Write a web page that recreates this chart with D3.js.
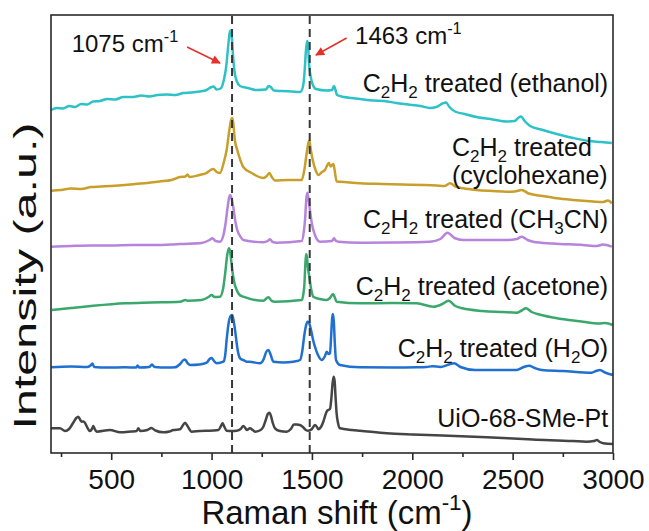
<!DOCTYPE html>
<html>
<head>
<meta charset="utf-8">
<title>Raman spectra</title>
<script src="https://cdn.jsdelivr.net/npm/d3@7"></script>
<style>
    body { margin: 0; background: #ffffff; }
    text { font-family: 'Liberation Sans', Arial, sans-serif; fill: #111111; }
</style>
</head>
<body>
<svg id="chart" width="649" height="531"></svg>
<script>
// axis ranges and ticks
const xDomain = [200, 3000];
const yDomain = [0, 438];
const majorTicks = [500, 1000, 1500, 2000, 2500, 3000];
const minorTicks = [250, 750, 1250, 1750, 2250, 2750];
// dashed guide lines (Raman shift, cm-1)
const markedShifts = [1102, 1489];

// spectra: [Raman shift (cm-1), intensity (a.u., stacked with offset)]
const ethanol = [[200, 343], [230, 345], [260, 344.5], [290, 347], [320, 346], [350, 349], [380, 348.5], [410, 351.5], [444, 352], [480, 354], [520, 353.5], [560, 356], [610, 356], [650, 357.5], [690, 356.5], [730, 358], [776, 358.5], [820, 358], [860, 360], [900, 360.5], [940, 361.5], [975, 363], [1000, 366], [1010, 366.5], [1025, 363.5], [1045, 364.5], [1060, 372], [1072, 385], [1082, 405], [1090, 420], [1095, 422.5], [1100, 418], [1106, 400], [1114, 382], [1125, 372], [1142, 367], [1180, 365], [1225, 363], [1270, 363.5], [1285, 367], [1295, 366], [1310, 362.5], [1350, 362], [1400, 361.5], [1441, 361], [1455, 366], [1463, 380], [1470, 402], [1476, 412], [1480, 409], [1486, 388], [1494, 376], [1505, 368], [1520, 364], [1573, 362.5], [1600, 363], [1610, 367], [1616, 364], [1625, 358], [1660, 356], [1700, 355], [1740, 354], [1806, 352.5], [1860, 352], [1920, 350], [1980, 348.5], [2040, 347], [2088, 345], [2120, 346], [2150, 349.5], [2168, 350.5], [2185, 346], [2213, 341.5], [2260, 339], [2320, 336], [2400, 333.5], [2470, 331.5], [2510, 332], [2530, 335.5], [2542, 336.5], [2560, 332], [2587, 327], [2650, 323], [2720, 319], [2801, 315], [2880, 312], [2940, 311], [2994, 310]];
const cyclohexane = [[200, 262.3], [250, 263], [300, 264.5], [350, 264], [400, 266], [450, 266.5], [500, 267], [569, 268], [620, 269], [680, 270], [740, 271.5], [800, 273], [843, 276], [870, 276.5], [880, 278.5], [890, 276], [940, 278], [975, 280], [995, 283], [1009, 284], [1025, 281], [1042, 280], [1060, 290], [1075, 303], [1088, 322], [1097, 333], [1103, 335], [1108, 330], [1116, 313], [1128, 303], [1145, 292], [1158, 286], [1200, 280], [1258, 275], [1275, 277], [1288, 280], [1300, 276], [1316, 272.5], [1380, 273], [1449, 273], [1463, 284], [1474, 300], [1482, 310], [1487, 312.5], [1493, 305], [1504, 293], [1518, 283], [1532, 278], [1550, 281], [1565, 283], [1577, 288], [1585, 290], [1593, 286.5], [1600, 288], [1607, 289], [1613, 283], [1623, 271.5], [1640, 271.3], [1740, 269.7], [1850, 269], [1950, 268.5], [2055, 268], [2120, 267.5], [2160, 267], [2188, 269.7], [2215, 266.5], [2254, 264.7], [2320, 263], [2400, 262], [2470, 261.3], [2510, 261.5], [2545, 263], [2580, 259.5], [2650, 257], [2719, 254.7], [2800, 253], [2900, 251.5], [2950, 251], [2975, 252.5], [2994, 249.7]];
const ch3cn = [[200, 206.3], [300, 207], [400, 207.5], [500, 207.5], [600, 208], [700, 208], [800, 208.5], [843, 209], [950, 210], [990, 213], [1004, 214.7], [1020, 212], [1042, 211.3], [1058, 217], [1070, 230], [1080, 246], [1088, 256], [1093, 258], [1100, 254], [1108, 246], [1118, 232], [1128, 223], [1145, 216], [1158, 213], [1258, 210.7], [1280, 212], [1291, 213.7], [1305, 211], [1324, 210.3], [1449, 212], [1460, 222], [1466, 234], [1472, 254], [1477, 260.3], [1483, 254], [1490, 243], [1500, 229], [1515, 218], [1540, 211.3], [1600, 212], [1610, 214.7], [1620, 212], [1632, 211.3], [1740, 210.3], [1900, 210.5], [2088, 211.3], [2140, 214], [2175, 220.3], [2210, 215], [2254, 213], [2470, 213], [2520, 214], [2545, 216.3], [2575, 213], [2602, 211.3], [2700, 209.5], [2850, 208], [2920, 207], [2950, 208.5], [2994, 206.3]];
const acetone = [[205, 143], [300, 145], [400, 147], [569, 149.7], [700, 150.5], [843, 151.3], [870, 153], [880, 152.3], [950, 153], [985, 156], [1000, 158], [1015, 156], [1042, 156.3], [1058, 165], [1068, 180], [1078, 198], [1086, 204.7], [1092, 202], [1098, 192], [1105, 180], [1115, 169], [1125, 163], [1140, 158], [1158, 156.3], [1258, 152.3], [1283, 155.7], [1300, 152], [1316, 151.3], [1449, 153], [1458, 160], [1463, 170], [1467, 188], [1471, 199], [1475, 196], [1481, 184], [1487, 176.3], [1496, 164], [1507, 156.3], [1540, 154], [1573, 153], [1590, 155], [1605, 159], [1615, 155], [1623, 151.3], [1740, 149.7], [1900, 150], [2022, 149.7], [2105, 146.3], [2150, 149], [2180, 152.3], [2215, 147], [2250, 144.7], [2350, 142], [2450, 141], [2520, 140.3], [2545, 142.5], [2566, 144.7], [2595, 141], [2624, 139], [2700, 135.5], [2780, 133], [2851, 131.3], [2930, 129.5], [2960, 130], [3000, 128]];
const water = [[200, 85.7], [300, 86.5], [380, 86], [400, 88], [407, 89.5], [415, 86], [480, 85.5], [569, 85.7], [625, 85.5], [631, 87.5], [640, 85.5], [690, 86], [703, 88.5], [716, 86], [780, 85.5], [818, 85.7], [843, 89], [860, 93], [868, 93.5], [880, 90], [893, 88], [940, 88.5], [976, 90.3], [990, 94], [1000, 95], [1012, 92], [1026, 89.7], [1059, 91.3], [1068, 98], [1075, 113], [1085, 130], [1095, 137], [1103, 138], [1110, 132], [1117, 123], [1125, 110], [1133, 99.7], [1145, 94], [1158, 93], [1175, 91.3], [1200, 91], [1241, 89.7], [1260, 94], [1272, 101], [1283, 103], [1293, 99], [1308, 91.3], [1360, 90.5], [1407, 91.3], [1441, 93], [1452, 102], [1461, 116.3], [1470, 127], [1478, 131.3], [1484, 131], [1492, 126], [1499, 119.7], [1507, 112], [1515, 106.3], [1530, 98], [1549, 93], [1565, 97], [1574, 101.3], [1583, 99], [1590, 100], [1596, 118], [1600, 133], [1604, 139], [1609, 132], [1614, 110], [1620, 93], [1640, 88], [1740, 85.7], [1900, 85.5], [2022, 85.7], [2070, 86], [2100, 86.8], [2140, 86], [2190, 89], [2208, 89.7], [2240, 86], [2313, 83], [2450, 83], [2520, 83], [2555, 86], [2582, 87.3], [2610, 85], [2645, 83], [2750, 82], [2894, 80.3], [2915, 82], [2935, 83], [2960, 80.5], [3000, 78]];
const uio = [[200, 24.7], [245, 24.7], [270, 22], [290, 24], [310, 30], [326, 35], [336, 36.3], [346, 33], [353, 31.3], [362, 31.5], [369, 30.3], [382, 25], [394, 22], [404, 24], [411, 27], [418, 24], [428, 21.3], [494, 23], [544, 20.7], [600, 21.5], [627, 22], [635, 24.7], [645, 22], [680, 23], [700, 25], [720, 22.5], [760, 20.7], [790, 21.5], [809, 23], [843, 23.7], [855, 27], [868, 30.3], [880, 27], [901, 21.3], [940, 22], [976, 22.3], [1010, 22.5], [1034, 23], [1047, 27], [1055, 29.7], [1062, 27], [1075, 22.3], [1100, 22], [1125, 22.3], [1145, 24], [1158, 27], [1168, 25], [1175, 23], [1191, 24.7], [1205, 23], [1216, 21.3], [1240, 22.5], [1258, 26.3], [1270, 33], [1280, 39], [1288, 40.3], [1296, 37], [1305, 30], [1316, 24.7], [1340, 22], [1374, 21.3], [1395, 24], [1410, 28.5], [1425, 28.5], [1440, 28], [1455, 26], [1470, 23], [1482, 22.3], [1500, 24], [1515, 28], [1525, 26], [1532, 23.7], [1545, 26], [1558, 32], [1567, 38], [1575, 42], [1582, 43], [1590, 44], [1597, 55], [1603, 70], [1608, 76.3], [1613, 72], [1618, 55], [1623, 39.7], [1630, 30], [1640, 24.7], [1700, 23], [1740, 22.3], [1873, 19.7], [2000, 18.5], [2150, 17.5], [2371, 15.7], [2600, 13.5], [2800, 12], [2869, 11.3], [2905, 12], [2919, 13], [2935, 11], [2952, 9.7], [3000, 9]];

const seriesNames = ['ethanol', 'cyclohexane', 'CH3CN', 'acetone', 'H2O', 'UiO-68-SMe-Pt'];
const seriesData = [ethanol, cyclohexane, ch3cn, acetone, water, uio];

// trace labels ("_2" = subscript, "^-1" = superscript)
const labelTexts = ['C_2H_2 treated (ethanol)', 'C_2H_2 treated', '(cyclohexane)', 'C_2H_2 treated (CH_3CN)', 'C_2H_2 treated (acetone)', 'C_2H_2 treated (H_2O)', 'UiO-68-SMe-Pt'];
const labelShift = [2976, 2198, 2198, 2976, 2976, 2976, 2976];
const labelLevel = [361, 297, 269, 225, 158, 96, 26];
const labelAnchor = ['end', 'start', 'start', 'end', 'end', 'end', 'end'];

// peak annotations with arrows
const noteTexts = ['1075 cm^-1', '1463 cm^-1'];
const noteAt = [[303, 401], [1715, 409]];
const arrowFrom = [[878, 406], [1673, 415]];
const arrowTo = [[1042, 390], [1520, 398]];

const width = 649;
const height = 531;
const margin = { top: 15, right: 36, bottom: 78, left: 51 };

// палитра трасс
const color = d3.scaleOrdinal()
    .domain(seriesNames)
    .range(['#2ec2c6', '#c89f2a', '#b784dc', '#3aa86c', '#2070d0', '#454545']);

const x = d3.scaleLinear().domain(xDomain).range([margin.left, width - margin.right]);
const y = d3.scaleLinear().domain(yDomain).range([height - margin.bottom, margin.top]);

const svg = d3.select('#chart');

/**
 * Writes a string with _x subscripts and ^x superscripts as tspans
 * @param textSel d3 selection of a <text>
 * @param str source string
 * @param size base font size in px
 */
function richText(textSel, str, size) {
    const parts = str.split(/(_\d|\^-?\d)/).filter(function (s) {
        return s !== '';
    });
    let level = 0;
    parts.forEach(function (p) {
        let target = 0;
        let content = p;
        if (p[0] === '_') {
            target = 0.25;
            content = p.slice(1);
        } else if (p[0] === '^') {
            target = -0.42;
            content = p.slice(1);
        }
        const span = textSel.append('tspan')
            .attr('dy', ((target - level) * size) + 'px')
            .text(content);
        if (target !== 0) span.style('font-size', (size * 0.68) + 'px');
        level = target;
    });
}

// spectra
const line = d3.line()
    .x(d => x(d[0]))
    .y(d => y(d[1]))
    .curve(d3.curveMonotoneX);

svg.append('g')
    .selectAll('path')
    .data(seriesData)
    .enter()
    .append('path')
    .attr('d', line)
    .attr('fill', 'none')
    .attr('stroke', (d, i) => color(seriesNames[i]))
    .attr('stroke-width', 2.5)
    .attr('stroke-linejoin', 'round');

// dashed guide lines
svg.append('g')
    .selectAll('line')
    .data(markedShifts)
    .enter()
    .append('line')
    .attr('x1', d => x(d))
    .attr('x2', d => x(d))
    .attr('y1', y(yDomain[0]))
    .attr('y2', y(yDomain[1]))
    .attr('stroke', '#383838')
    .attr('stroke-width', 2)
    .attr('stroke-dasharray', '8 5');

// frame
svg.append('rect')
    .attr('x', x(xDomain[0]))
    .attr('y', y(yDomain[1]))
    .attr('width', x(xDomain[1]) - x(xDomain[0]))
    .attr('height', y(yDomain[0]) - y(yDomain[1]))
    .attr('fill', 'none')
    .attr('stroke', '#2a2a2a')
    .attr('stroke-width', 1.6);

// bottom axis, major + minor ticks
const axisMajor = svg.append('g')
    .attr('transform', 'translate(0,' + y(yDomain[0]) + ')')
    .call(d3.axisBottom(x)
        .tickValues(majorTicks)
        .tickFormat(d3.format('d'))
        .tickSize(7)
        .tickPadding(9)
        .tickSizeOuter(0));
axisMajor.select('.domain').remove();
axisMajor.selectAll('line').attr('stroke', '#2a2a2a').attr('stroke-width', 1.6);
axisMajor.selectAll('text')
    .style('font-size', '28px')
    .style('font-family', "'Liberation Sans', Arial, sans-serif")
    .attr('fill', '#111');

const axisMinor = svg.append('g')
    .attr('transform', 'translate(0,' + y(yDomain[0]) + ')')
    .call(d3.axisBottom(x).tickValues(minorTicks).tickSize(4).tickFormat('').tickSizeOuter(0));
axisMinor.select('.domain').remove();
axisMinor.selectAll('line').attr('stroke', '#2a2a2a').attr('stroke-width', 1.6);

// axis titles
const xTitle = svg.append('text')
    .attr('x', 337)
    .attr('y', 524)
    .attr('text-anchor', 'middle')
    .style('font-size', '33px');
richText(xTitle, 'Raman shift (cm^-1)', 33);

svg.append('text')
    .attr('transform', 'translate(36,276) rotate(-90)')
    .attr('text-anchor', 'middle')
    .attr('textLength', 307)
    .attr('lengthAdjust', 'spacingAndGlyphs')
    .style('font-size', '32px')
    .text('Intensity (a.u.)');

// trace labels
labelTexts.forEach(function (t, i) {
    const lbl = svg.append('text')
        .attr('x', x(labelShift[i]))
        .attr('y', y(labelLevel[i]))
        .attr('text-anchor', labelAnchor[i])
        .style('font-size', '25px');
    richText(lbl, t, 25);
});

// arrows and peak notes
svg.append('defs')
    .append('marker')
    .attr('id', 'arrowHead')
    .attr('viewBox', '0 0 10 10')
    .attr('refX', 9)
    .attr('refY', 5)
    .attr('markerWidth', 11)
    .attr('markerHeight', 9)
    .attr('markerUnits', 'userSpaceOnUse')
    .attr('orient', 'auto')
    .append('path')
    .attr('d', 'M0,0 L10,5 L0,10 Z')
    .attr('fill', '#e5302b');

arrowFrom.forEach(function (a, i) {
    svg.append('line')
        .attr('x1', x(a[0]))
        .attr('y1', y(a[1]))
        .attr('x2', x(arrowTo[i][0]))
        .attr('y2', y(arrowTo[i][1]))
        .attr('stroke', '#e5302b')
        .attr('stroke-width', 1.5)
        .attr('marker-end', 'url(#arrowHead)');
});

noteTexts.forEach(function (t, i) {
    const note = svg.append('text')
        .attr('x', x(noteAt[i][0]))
        .attr('y', y(noteAt[i][1]))
        .style('font-size', '24px');
    richText(note, t, 24);
});
</script>
</body>
</html>
